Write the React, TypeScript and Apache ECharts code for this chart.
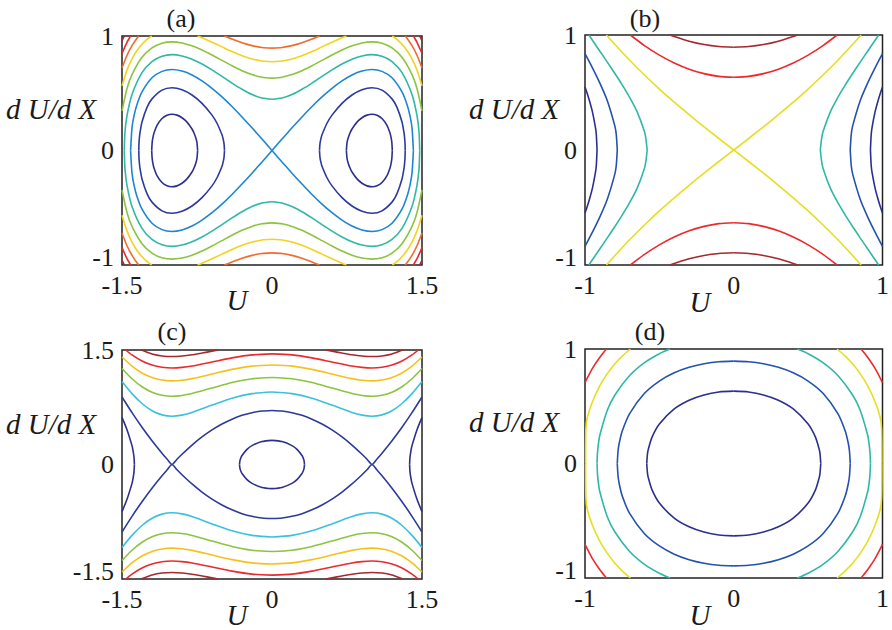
import React, { useEffect, useRef } from "react";
import * as echarts from "echarts";

// ---------- Tick labels ----------
const A_XTICKS = [-1.5, 0, 1.5];
const A_YTICKS = [-1, 0, 1];
const B_XTICKS = [-1, 0, 1];
const B_YTICKS = [-1, 0, 1];
const C_XTICKS = [-1.5, 0, 1.5];
const C_YTICKS = [-1.5, 0, 1.5];
const D_XTICKS = [-1, 0, 1];
const D_YTICKS = [-1, 0, 1];

const TITLES = ["(a)", "(b)", "(c)", "(d)"];

// ---------- Contour curves, read in the quadrant U>=0, dU/dX>=0 (mirrored by symmetry) ----------
// Panel (a)
const aInner = [[0.744,0],[0.75,0.066],[0.76,0.104],[0.78,0.153],[0.8,0.188],[0.85,0.248],[0.9,0.286],[0.95,0.309],[1.0,0.316],[1.05,0.308],[1.1,0.279],[1.15,0.219],[1.18,0.152],[1.19,0.116],[1.198,0.073],[1.203,0]];
const aWell = [[0.475,0],[0.48,0.062],[0.49,0.106],[0.5,0.137],[0.55,0.238],[0.6,0.309],[0.7,0.412],[0.8,0.485],[0.9,0.531],[1.0,0.548],[1.1,0.527],[1.2,0.451],[1.25,0.377],[1.3,0.249],[1.32,0.156],[1.325,0.12],[1.33,0.067],[1.332,0]];
const aSep = [[0,0],[0.1,0.1],[0.2,0.198],[0.3,0.293],[0.4,0.384],[0.5,0.468],[0.6,0.543],[0.7,0.608],[0.8,0.66],[0.9,0.694],[1.0,0.707],[1.1,0.691],[1.2,0.635],[1.3,0.512],[1.35,0.402],[1.38,0.302],[1.4,0.198],[1.414,0]];
const aL1 = [[0,0.447],[0.1,0.458],[0.2,0.489],[0.3,0.535],[0.4,0.589],[0.5,0.647],[0.6,0.704],[0.7,0.755],[0.8,0.797],[0.9,0.826],[1.0,0.837],[1.1,0.823],[1.2,0.777],[1.3,0.68],[1.4,0.489],[1.45,0.304],[1.47,0.163],[1.477,0]];
const aL2 = [[0,0.632],[0.1,0.64],[0.2,0.663],[0.3,0.697],[0.4,0.74],[0.5,0.787],[0.6,0.834],[0.7,0.878],[0.8,0.914],[0.9,0.939],[1.0,0.949],[1.1,0.937],[1.2,0.896],[1.3,0.814],[1.4,0.663],[1.45,0.541],[1.5,0.345]];
const aL3a = [[0,0.775],[0.1,0.781],[0.2,0.8],[0.3,0.828],[0.4,0.864],[0.5,0.905],[0.6,0.946],[0.7,0.985],[0.744,1]];
const aL3b = [[1.203,1],[1.25,0.971],[1.3,0.928],[1.35,0.873],[1.4,0.8],[1.45,0.702],[1.5,0.565]];
const aL4a = [[0,0.894],[0.1,0.9],[0.2,0.916],[0.3,0.941],[0.4,0.973],[0.475,1]];
const aL4b = [[1.332,1],[1.35,0.981],[1.4,0.916],[1.45,0.832],[1.5,0.72]];
const aL5 = [[1.414,1],[1.45,0.945],[1.5,0.848]];
const aL6 = [[1.477,1],[1.5,0.959]];

// Panel (b)
const bP4 = [[0,0.894],[0.1,0.9],[0.2,0.917],[0.3,0.946],[0.4,0.986],[0.428,1]];
const bP2 = [[0,0.632],[0.1,0.64],[0.2,0.664],[0.3,0.703],[0.4,0.757],[0.5,0.825],[0.6,0.908],[0.695,1]];
const bZero = [[0,0],[0.1,0.1],[0.2,0.202],[0.3,0.307],[0.4,0.416],[0.5,0.53],[0.6,0.652],[0.7,0.781],[0.8,0.919],[0.856,1]];
const bN2 = [[0.582,0],[0.59,0.093],[0.6,0.158],[0.65,0.334],[0.7,0.458],[0.75,0.566],[0.8,0.667],[0.85,0.764],[0.9,0.859],[0.974,1]];
const bN4 = [[0.783,0],[0.79,0.137],[0.8,0.212],[0.85,0.428],[0.9,0.581],[0.95,0.714],[1.0,0.837]];
const bN6 = [[0.919,0],[0.924,0.135],[0.93,0.197],[0.95,0.331],[0.97,0.428],[0.985,0.491],[1.0,0.548]];

// Panel (c)
const cIn = [[0,0.316],[0.1,0.3],[0.2,0.247],[0.25,0.199],[0.3,0.119],[0.31,0.092],[0.32,0.053],[0.325,0]];
const cOut = [[1.376,0],[1.38,0.096],[1.39,0.185],[1.4,0.247],[1.45,0.456],[1.5,0.618]];
const cSep = [[0,0.707],[0.1,0.7],[0.2,0.679],[0.3,0.644],[0.4,0.594],[0.5,0.53],[0.6,0.453],[0.7,0.361],[0.8,0.255],[0.9,0.134],[0.95,0.069],[1.0,0],[1.05,0.073],[1.1,0.148],[1.2,0.311],[1.3,0.488],[1.4,0.679],[1.5,0.884]];
const cL45 = [[0,0.949],[0.2,0.928],[0.4,0.868],[0.6,0.778],[0.8,0.682],[0.9,0.647],[1.0,0.632],[1.1,0.65],[1.2,0.705],[1.3,0.799],[1.4,0.928],[1.5,1.087]];
const cL65 = [[0,1.14],[0.2,1.123],[0.4,1.074],[0.6,1.002],[0.8,0.93],[0.9,0.905],[1.0,0.894],[1.1,0.907],[1.2,0.947],[1.3,1.019],[1.4,1.123],[1.5,1.258]];
const cL85 = [[0,1.304],[0.2,1.289],[0.4,1.246],[0.6,1.185],[0.8,1.125],[0.9,1.104],[1.0,1.095],[1.1,1.106],[1.2,1.139],[1.3,1.199],[1.4,1.289],[1.5,1.408]];
const cL105 = [[0,1.449],[0.2,1.436],[0.4,1.397],[0.6,1.343],[0.8,1.29],[0.9,1.272],[1.0,1.265],[1.1,1.274],[1.2,1.303],[1.3,1.356],[1.4,1.436],[1.463,1.5]];
const cL125 = [[0.541,1.5],[0.6,1.485],[0.7,1.46],[0.8,1.437],[0.9,1.421],[1.0,1.414],[1.1,1.422],[1.2,1.448],[1.3,1.496],[1.307,1.5]];

// Panel (d)
const d02 = [[0,0.632],[0.1,0.625],[0.2,0.599],[0.3,0.553],[0.4,0.477],[0.5,0.345],[0.55,0.228],[0.575,0.121],[0.58,0.084],[0.585,0]];
const d04 = [[0,0.894],[0.1,0.889],[0.2,0.871],[0.3,0.84],[0.4,0.792],[0.5,0.72],[0.6,0.613],[0.7,0.436],[0.75,0.282],[0.77,0.177],[0.778,0.107],[0.783,0]];
const d06 = [[0.428,1],[0.5,0.959],[0.6,0.881],[0.7,0.768],[0.8,0.596],[0.85,0.465],[0.9,0.249],[0.91,0.17],[0.916,0.095],[0.919,0]];
const d08 = [[0.695,1],[0.75,0.938],[0.8,0.869],[0.85,0.785],[0.9,0.68],[0.95,0.539],[0.985,0.4],[0.994,0.3],[0.996,0]];
const d10 = [[0.856,1],[0.9,0.928],[0.95,0.831],[1.0,0.707]];

// ---------- Colours ----------
const NAVY = "#2d2f8e";
const NAVY2 = "#2b3a9c";
const BLUE = "#1c86d4";
const BLUE2 = "#2352ad";
const TEAL = "#2fb8a6";
const CYAN = "#3cc0de";
const GREEN = "#8cc43f";
const YELLOW = "#f2d31e";
const YELLOW2 = "#e6de22";
const GOLD = "#f7c11c";
const ORANGE = "#f26a2c";
const RED = "#ec2a2d";
const DARKRED = "#a8282f";

const PANELS = [
  {
    grid: { left: 122, top: 36, width: 300, height: 229 },
    x: A_XTICKS, y: A_YTICKS,
    curves: [[aInner, NAVY], [aWell, NAVY2], [aSep, BLUE], [aL1, TEAL], [aL2, GREEN], [aL3a, YELLOW], [aL3b, YELLOW], [aL4a, ORANGE], [aL4b, ORANGE], [aL5, RED], [aL6, DARKRED]],
  },
  {
    grid: { left: 585, top: 35, width: 299, height: 230 },
    x: B_XTICKS, y: B_YTICKS,
    curves: [[bP4, DARKRED], [bP2, RED], [bZero, YELLOW2], [bN2, TEAL], [bN4, BLUE2], [bN6, NAVY]],
  },
  {
    grid: { left: 122, top: 350, width: 300, height: 229 },
    x: C_XTICKS, y: C_YTICKS,
    curves: [[cIn, NAVY], [cOut, NAVY], [cSep, NAVY2], [cL45, CYAN], [cL65, GREEN], [cL85, GOLD], [cL105, RED], [cL125, DARKRED]],
  },
  {
    grid: { left: 585, top: 349, width: 299, height: 229 },
    x: D_XTICKS, y: D_YTICKS,
    curves: [[d02, NAVY], [d04, BLUE2], [d06, TEAL], [d08, YELLOW2], [d10, RED]],
  },
];

const SERIF = "'Liberation Serif', 'DejaVu Serif', serif";

export default function App() {
  const ref = useRef<HTMLDivElement>(null);

  useEffect(() => {
    if (!ref.current) return;
    const chart = echarts.init(ref.current, undefined, { renderer: "svg" });

    const grids: any[] = [];
    const xAxes: any[] = [];
    const yAxes: any[] = [];
    const series: any[] = [];

    const labelText = { fontFamily: SERIF, fontSize: 26, color: "#1a1a1a" };

    PANELS.forEach((p, i) => {
      grids.push({
        ...p.grid,
        show: true,
        borderColor: "#222",
        borderWidth: 1.5,
        backgroundColor: "transparent",
        containLabel: false,
      });
      const xStep = p.x[1] - p.x[0];
      const yStep = p.y[1] - p.y[0];
      const yMin = p.y[0];
      const common = {
        axisLine: { show: false },
        axisTick: { show: false },
        splitLine: { show: false },
      };
      xAxes.push({
        type: "value",
        gridIndex: i,
        min: p.x[0],
        max: p.x[p.x.length - 1],
        interval: xStep,
        ...common,
        axisLabel: {
          showMinLabel: true,
          showMaxLabel: true,
          margin: 7,
          ...labelText,
          formatter: (v: number) => String(v),
        },
      });
      yAxes.push({
        type: "value",
        gridIndex: i,
        min: yMin,
        max: p.y[p.y.length - 1],
        interval: yStep,
        ...common,
        axisLabel: {
          showMinLabel: true,
          showMaxLabel: true,
          margin: 8,
          ...labelText,
          formatter: (v: number) => (v === yMin ? `{lo|${v}}` : `{n|${v}}`),
          rich: {
            lo: { ...labelText, padding: [0, 0, 15, 0] },
            n: { ...labelText },
          },
        },
      });
      p.curves.forEach(([pts, color]: any) => {
        const signs = [[1, 1], [-1, 1], [1, -1], [-1, -1]];
        signs.forEach(([sx, sy]) => {
          series.push({
            type: "line",
            xAxisIndex: i,
            yAxisIndex: i,
            data: (pts as number[][]).map(([u, v]) => [sx * u, sy * v]),
            showSymbol: false,
            symbol: "none",
            smooth: 0.25,
            clip: true,
            silent: true,
            lineStyle: { color, width: 1.6 },
          });
        });
      });
    });

    const txt = (text: string, x: number, y: number, italic: boolean, size: number, align = "center") => ({
      type: "text",
      x,
      y,
      silent: true,
      style: {
        text,
        font: `${italic ? "italic " : ""}${size}px ${SERIF}`,
        fill: "#1a1a1a",
        textAlign: align,
        textVerticalAlign: "middle",
        align,
        verticalAlign: "middle",
      },
    });

    const graphic = [
      txt(TITLES[0], 181, 18, false, 26),
      txt(TITLES[1], 645, 18, false, 26),
      txt(TITLES[2], 172, 331, false, 26),
      txt(TITLES[3], 650, 331, false, 26),
      txt("U", 237, 300, true, 29),
      txt("U", 700, 302, true, 29),
      txt("U", 237, 615, true, 29),
      txt("U", 700, 615, true, 29),
      txt("d U/d X", 6, 109, true, 29, "left"),
      txt("d U/d X", 469, 109, true, 29, "left"),
      txt("d U/d X", 6, 424, true, 29, "left"),
      txt("d U/d X", 469, 422, true, 29, "left"),
    ];

    chart.setOption({
      animation: false,
      backgroundColor: "#ffffff",
      grid: grids,
      xAxis: xAxes,
      yAxis: yAxes,
      series,
      graphic,
    });

    return () => {
      chart.dispose();
    };
  }, []);

  return (
    <div
      ref={ref}
      style={{ position: "absolute", left: 0, top: 0, width: 892, height: 630 }}
    />
  );
}
